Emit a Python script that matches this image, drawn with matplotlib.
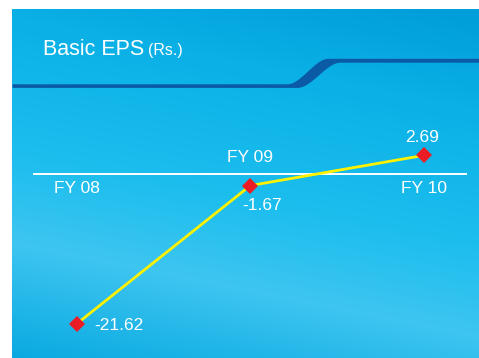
import numpy as np
import matplotlib.pyplot as plt

plt.rcParams['font.family'] = ['Liberation Sans', 'DejaVu Sans']

years = ['FY 08', 'FY 09', 'FY 10']
eps = [-21.62, -1.67, 2.69]
eps_labels = ['-21.62', '-1.67', '2.69']

W, H = 479, 358
fig = plt.figure(figsize=(W / 100, H / 100), dpi=100)
fig.patch.set_facecolor('white')

# background panel (pixel coordinates)
bg = fig.add_axes([0, 0, 1, 1])
bg.set_xlim(0, W)
bg.set_ylim(H, 0)
bg.axis('off')

px, py = np.meshgrid(np.arange(12, W), np.arange(9, H))
s = py - 0.2 * px
stops = [-80, 14, 150, 240, 370]
reds = [0, 10, 28, 62, 2]
greens = [158, 176, 190, 197, 166]
blues = [218, 230, 238, 241, 222]
img = np.dstack([np.interp(s, stops, c) for c in (reds, greens, blues)]) / 255
bg.imshow(img, extent=(12, W, H, 9), aspect='auto', interpolation='bilinear')


def smooth(x, x0, x1):
    t = np.clip((x - x0) / (x1 - x0), 0, 1)
    return t * t * (3 - 2 * t)


xs = np.linspace(12, W, 800)
y_top = 83.8 - 25.5 * smooth(xs, 287, 328)
y_bot = 87.4 - 25.2 * smooth(xs, 297, 340)
bg.fill_between(xs, y_top, y_bot, color='#0b5aa6', lw=0)

bg.text(43, 55, 'Basic EPS', color='white', fontsize=15.5, va='baseline')
bg.text(148, 55, '(Rs.)', color='white', fontsize=11.5, va='baseline')

# chart
ax = fig.add_axes([33 / W, (H - 343) / H, 434 / W, 225 / H])
ax.patch.set_alpha(0)
ax.set_xlim(-0.2517, 2.2477)
ax.set_ylim(-24.39, 8.08)
ax.axis('off')

x = np.arange(len(years))
ax.axhline(0, color='white', lw=1.4)
ax.plot(x, eps, color='#fff200', lw=2, zorder=3)
ax.plot(x, eps, ls='none', marker='D', ms=8, color='#ec1c24', mew=0, zorder=4)

year_offsets = [-13.5, 8.5, -13.5]
for i, name in enumerate(years):
    ax.annotate(name, (x[i], 0), xytext=(0, year_offsets[i]), textcoords='offset points',
                ha='center', va='baseline', color='white', fontsize=12.5)

value_offsets = [(12.5, -4.5), (8.3, -17.8), (-1.4, 9.9)]
value_align = ['left', 'center', 'center']
for i, lab in enumerate(eps_labels):
    ax.annotate(lab, (x[i], eps[i]), xytext=value_offsets[i], textcoords='offset points',
                ha=value_align[i], va='baseline', color='white', fontsize=12.5)

fig.savefig('out.png', dpi=100)
